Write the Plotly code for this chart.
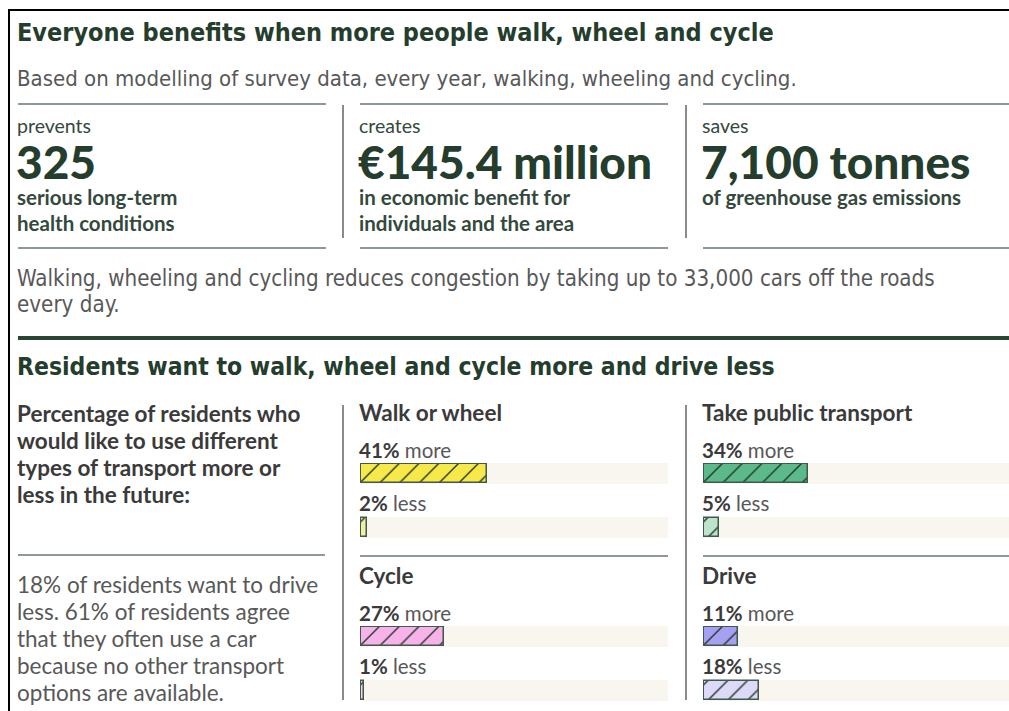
import plotly.graph_objects as go

# page is 1009x711; body margin is removed so the figure fills the page
W, H = 1009, 711

# ---------------- data ----------------
title_1 = "Everyone benefits when more people walk, wheel and cycle"
subtitle_1 = "Based on modelling of survey data, every year, walking, wheeling and cycling."
stat_labels = ["prevents", "creates", "saves"]
stat_values = ["325", "€145.4 million", "7,100 tonnes"]
stat_desc = [["serious long-term", "health conditions"],
             ["in economic benefit for", "individuals and the area"],
             ["of greenhouse gas emissions"]]
congestion_lines = ["Walking, wheeling and cycling reduces congestion by taking up to 33,000 cars off the roads",
                    "every day."]
title_2 = "Residents want to walk, wheel and cycle more and drive less"
intro_lines = ["Percentage of residents who", "would like to use different",
               "types of transport more or", "less in the future:"]
note_lines = ["18% of residents want to drive", "less. 61% of residents agree",
              "that they often use a car", "because no other transport",
              "options are available."]
modes = ["Walk or wheel", "Take public transport", "Cycle", "Drive"]
more_pct = [41, 34, 27, 11]
less_pct = [2, 5, 1, 18]
more_colors = ["#f8e94a", "#5cba8a", "#f7b3e9", "#a6a0f2"]
less_colors = ["#f4eea2", "#bde3cd", "#f6d5ef", "#dcd9f9"]

# ---------------- helpers (page pixel -> paper) ----------------
def px(x):
    return x / W

def py(y):
    return 1 - y / H

DARK = "#243d2d"
GRAY = "#585858"
TEXTDARK = "#3a3a3a"
STATTXT = "#34493d"
LINE = "#8e9a93"
COND = "Liberation Sans Narrow, DejaVu Sans Condensed, Roboto Condensed, Roboto, sans-serif"
BODY = "Lato, Open Sans, sans-serif"

fig = go.Figure()
annotations = []
shapes = []

def text(x, y, s, size, color, family=BODY, weight="normal"):
    annotations.append(dict(x=px(x), y=py(y), xref="paper", yref="paper", text=s,
                            showarrow=False, xanchor="left", yanchor="middle",
                            xshift=-2, borderpad=0,
                            font=dict(size=size, color=color, family=family, weight=weight)))

def hline(x0, x1, y, color=LINE, width=2):
    shapes.append(dict(type="line", xref="paper", yref="paper", x0=px(x0), x1=px(x1),
                       y0=py(y), y1=py(y), line=dict(color=color, width=width)))

def vline(x, y0, y1, color="#8a8a8a", width=2):
    shapes.append(dict(type="line", xref="paper", yref="paper", x0=px(x), x1=px(x),
                       y0=py(y0), y1=py(y1), line=dict(color=color, width=width)))

# outer frame (top and left)
hline(8, W, 10, color="#000000", width=2)
vline(9, 10, H, color="#000000", width=2)

# section 1
text(18, 33, title_1, 25, DARK, COND, "bold")
text(18, 78, subtitle_1, 22, GRAY, COND)

cols = [(18, 326), (360, 668), (703, 1009)]
for i, (x0, x1) in enumerate(cols):
    hline(x0, x1, 104)
    hline(x0, x1, 248)
    text(x0, 125, stat_labels[i], 19.5, STATTXT)
    text(x0 - 1, 161, stat_values[i], 46, DARK, BODY, 900)
    for j, ln in enumerate(stat_desc[i]):
        text(x0, 197 + 26 * j, ln, 20.5, STATTXT, BODY, "bold")
vline(343, 105, 238)
vline(686, 105, 238)

for j, ln in enumerate(congestion_lines):
    text(18, 278 + 26 * j, ln, 22.2, GRAY, COND)

hline(18, W, 338, color="#2a4433", width=4)
text(18, 366, title_2, 24.5, DARK, COND, "bold")

for j, ln in enumerate(intro_lines):
    text(18, 413 + 27 * j, ln, 22.5, TEXTDARK, BODY, "bold")
hline(18, 325, 555)
for j, ln in enumerate(note_lines):
    text(18, 584 + 27 * j, ln, 22.5, GRAY, BODY)

vline(343, 405, 700)
vline(686, 405, 700)
hline(360, 668, 556)
hline(703, 1009, 556)

# ---------------- bar panels ----------------
panel_x = [(360, 668), (703, 1009), (360, 668), (703, 1009)]
panel_top = [412, 412, 575, 575]
bar_h = 21
unit = 54.0
for i in range(4):
    x0, x1 = panel_x[i]
    t = panel_top[i]
    ax = "" if i == 0 else str(i + 1)
    # headings & labels
    text(x0, t, modes[i], 22.5, TEXTDARK, BODY, "bold")
    text(x0, t + 38, f"<b>{more_pct[i]}%</b><span style='color:{GRAY}'> more</span>", 20.5, TEXTDARK)
    text(x0, t + 91, f"<b>{less_pct[i]}%</b><span style='color:{GRAY}'> less</span>", 20.5, TEXTDARK)
    # bar geometry: more bar centre at t+61.5, less bar centre at t+115.5 (54 px apart)
    top_px = t + 61.5 - bar_h / 2
    bot_px = t + 115.5 + bar_h / 2
    half = (bar_h / 2) / unit
    fig.update_layout(**{
        f"xaxis{ax}": dict(domain=[px(x0), min(px(x1), 1)], range=[-0.4, 100], visible=False,
                           fixedrange=True, anchor=f"y{ax}"),
        f"yaxis{ax}": dict(domain=[py(bot_px), py(top_px)], range=[1 + half, -half],
                           visible=False, fixedrange=True, anchor=f"x{ax}"),
    })
    # track
    fig.add_trace(go.Bar(x=[100, 100], y=[0, 1], orientation="h", width=bar_h / unit,
                         marker=dict(color="#f9f5ef", line=dict(width=0)),
                         xaxis=f"x{ax}", yaxis=f"y{ax}", hoverinfo="skip", showlegend=False))
    # values: one trace per bar so each gets its own hatch colours
    for val, yy, col in [(more_pct[i], 0, more_colors[i]), (less_pct[i], 1, less_colors[i])]:
        fig.add_trace(go.Bar(x=[val], y=[yy], orientation="h",
                             width=bar_h / unit - 0.02,
                             marker=dict(color=col,
                                         line=dict(color="#3f5a4a", width=1.5),
                                         pattern=dict(shape="/", fgcolor="#22372a", fgopacity=1,
                                                      bgcolor=col, size=14, solidity=0.1,
                                                      fillmode="replace")),
                             xaxis=f"x{ax}", yaxis=f"y{ax}", showlegend=False,
                             hovertemplate="%{x}%<extra></extra>"))

fig.update_layout(width=W, height=H, margin=dict(l=0, r=0, t=0, b=0),
                  paper_bgcolor="white", plot_bgcolor="rgba(0,0,0,0)",
                  barmode="overlay", bargap=0, showlegend=False,
                  annotations=annotations, shapes=shapes)

fig.write_html("out.html", config={"displayModeBar": False},
               post_script="document.body.style.margin='0px';"
                           "document.body.style.overflow='hidden';"
                           "document.documentElement.style.overflow='hidden';")
